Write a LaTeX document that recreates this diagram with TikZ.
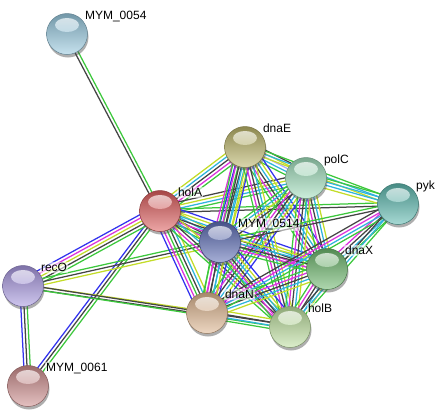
\documentclass[tikz,border=0pt]{standalone}
\usepackage{fontspec}
\setmainfont{Liberation Sans}
\usetikzlibrary{calc, shadows, backgrounds}
% evidence colours
\definecolor{nbhood}{HTML}{3CC83C}
\definecolor{cooccur}{HTML}{3232EE}
\definecolor{coexpr}{HTML}{444444}
\definecolor{expmt}{HTML}{DC32DC}
\definecolor{dbase}{HTML}{2EB4DC}
\definecolor{txtmine}{HTML}{C3DC28}
% protein colours
\definecolor{c0054}{HTML}{98CAE0}
\definecolor{cholA}{HTML}{DE5E5E}
\definecolor{cdnaE}{HTML}{BCB66A}
\definecolor{cpolC}{HTML}{A2E0BE}
\definecolor{cpyk}{HTML}{5EBAB0}
\definecolor{c0514}{HTML}{5E6EB6}
\definecolor{cdnaX}{HTML}{6EB86E}
\definecolor{crecO}{HTML}{A898E0}
\definecolor{cdnaN}{HTML}{DEB690}
\definecolor{cholB}{HTML}{BEE0A0}
\definecolor{c0061}{HTML}{CE8E8E}

% one bundle of parallel evidence lines between two proteins
\newcommand{\edge}[3]{%
    \foreach \ev [count=\k] in {#3} {\xdef\ecount{\k}}%
    \foreach \ev [count=\k] in {#3} {%
        \pgfmathsetmacro\off{(\k-(\ecount+1)/2)*3.2}%
        \draw[evline, \ev] ($(#1)!\off pt!90:(#2)$) -- ($(#2)!\off pt!-90:(#1)$);
    }%
}

\begin{document}
\begin{tikzpicture}[
    x=1pt, y=-1pt,
    % protein sphere
    protein/.style={
        circle,
        minimum size=41pt,
        inner sep=0pt,
        draw=#1!65!black,
        line width=0.5pt,
        top color=#1!75!black,
        middle color=#1,
        bottom color=#1!55!white,
        drop shadow={shadow xshift=1pt, shadow yshift=-3pt, fill=black!70, opacity=0.45},
        path picture={
            \shade[top color=white, bottom color=#1, opacity=0.75]
                ([yshift=9pt]path picture bounding box.center) ellipse [x radius=12pt, y radius=7pt];
        }
    },
    % protein name
    lbl/.style={
        anchor=base west,
        inner sep=1pt,
        xshift=2.2pt,
        yshift=-0.5pt,
        fill=white,
        fill opacity=0.55,
        text opacity=1,
        font=\fontsize{12}{14}\selectfont
    },
    evline/.style={line width=1.25pt}
]
    \useasboundingbox (0,0) rectangle (444,413);

    % --- proteins ---
    \node[protein=c0054, label={[lbl]45:MYM\_0054}] (m0054) at (67,34) {};
    \node[protein=cholA, label={[lbl]45:holA}] (holA) at (160,211) {};
    \node[protein=cdnaE, label={[lbl]45:dnaE}] (dnaE) at (245,147) {};
    \node[protein=cpolC, label={[lbl]45:polC}] (polC) at (306,178) {};
    \node[protein=cpyk, label={[lbl]45:pyk}] (pyk) at (398,204) {};
    \node[protein=c0514, label={[lbl]45:MYM\_0514}] (m0514) at (220,242) {};
    \node[protein=cdnaX, label={[lbl]45:dnaX}] (dnaX) at (327,269) {};
    \node[protein=crecO, label={[lbl]45:recO}] (recO) at (23,286) {};
    \node[protein=cdnaN, label={[lbl]45:dnaN}] (dnaN) at (207,313) {};
    \node[protein=cholB, label={[lbl]45:holB}] (holB) at (290,327) {};
    \node[protein=c0061, label={[lbl]45:MYM\_0061}] (m0061) at (28,386) {};

    % --- evidence bundles ---
    \begin{pgfonlayer}{background}
        \fill[white] (0,0) rectangle (444,413);

        \edge{m0054}{holA}{coexpr, nbhood}
        \edge{m0061}{holA}{nbhood, coexpr, cooccur}
        \edge{recO}{m0061}{cooccur, coexpr, nbhood}
        \edge{recO}{holA}{nbhood, coexpr, txtmine, expmt, cooccur}
        \edge{recO}{m0514}{txtmine, coexpr, nbhood}
        \edge{recO}{dnaN}{coexpr, txtmine}
        \edge{recO}{holB}{nbhood, coexpr}

        \edge{holA}{dnaE}{nbhood, expmt, coexpr, dbase, txtmine}
        \edge{holA}{polC}{nbhood, dbase, txtmine, coexpr}
        \edge{holA}{pyk}{coexpr, nbhood}
        \edge{holA}{m0514}{nbhood, expmt, coexpr, dbase, txtmine}
        \edge{holA}{dnaX}{nbhood, expmt, coexpr, dbase, txtmine, cooccur}
        \edge{holA}{dnaN}{cooccur, expmt, nbhood, coexpr, dbase, txtmine}
        \edge{holA}{holB}{nbhood, expmt, coexpr, dbase, txtmine}

        \edge{dnaE}{polC}{nbhood, dbase, cooccur!40, txtmine, coexpr}
        \edge{dnaE}{pyk}{txtmine, dbase, nbhood}
        \edge{dnaE}{m0514}{expmt, cooccur, nbhood, coexpr, dbase, txtmine}
        \edge{dnaE}{dnaX}{nbhood, expmt, coexpr, dbase, txtmine, cooccur}
        \edge{dnaE}{dnaN}{nbhood, expmt, coexpr, dbase, txtmine, cooccur}
        \edge{dnaE}{holB}{nbhood, expmt, coexpr, dbase, txtmine}

        \edge{polC}{pyk}{txtmine, dbase, dbase, nbhood}
        \edge{polC}{m0514}{nbhood, dbase, txtmine, coexpr}
        \edge{polC}{dnaX}{nbhood, expmt, coexpr, dbase, txtmine}
        \edge{polC}{dnaN}{nbhood, expmt, coexpr, dbase, txtmine, cooccur}
        \edge{polC}{holB}{nbhood, expmt, coexpr, dbase, txtmine}

        \edge{m0514}{pyk}{coexpr, nbhood}
        \edge{m0514}{dnaX}{nbhood, expmt, coexpr, dbase, txtmine}
        \edge{m0514}{dnaN}{nbhood, expmt, coexpr, dbase, txtmine}
        \edge{m0514}{holB}{nbhood, expmt, coexpr, dbase, txtmine, cooccur}

        \edge{dnaX}{pyk}{nbhood, dbase, coexpr, expmt}
        \edge{dnaX}{dnaN}{nbhood, expmt, coexpr, dbase, txtmine}
        \edge{dnaX}{holB}{nbhood, expmt, coexpr, dbase, txtmine}
        \edge{dnaN}{pyk}{nbhood, dbase, expmt, coexpr}
        \edge{dnaN}{holB}{nbhood, dbase, coexpr, txtmine}
        \edge{holB}{pyk}{nbhood, dbase, coexpr}
    \end{pgfonlayer}

\end{tikzpicture}
\end{document}
